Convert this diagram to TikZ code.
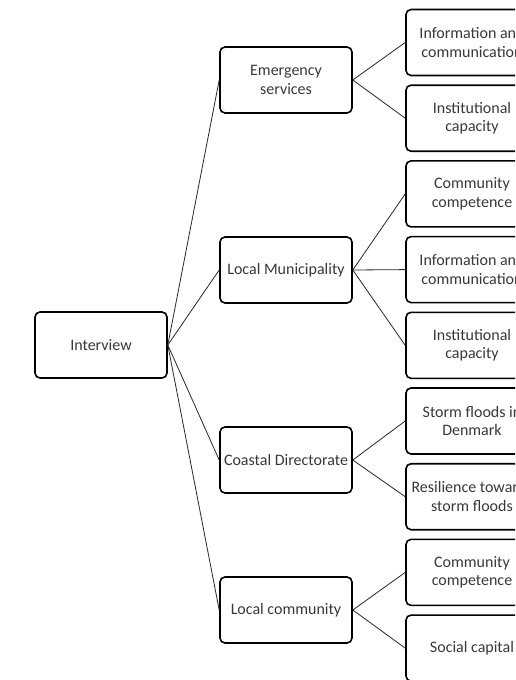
\documentclass[tikz,border=0pt]{standalone}
\usepackage{fontspec}
\setmainfont{Carlito}
\begin{document}
\begin{tikzpicture}[x=1pt,y=-1pt,
  box/.style={draw=black, line width=1.6pt, rounded corners=5pt, minimum width=132pt, minimum height=66pt, inner sep=1pt, align=center, text=black!78, font=\fontsize{16}{18.5}\selectfont},
  link/.style={draw=black!85, line width=0.8pt}]
\useasboundingbox (0,0) rectangle (515,680);
\clip (0,0) rectangle (515,680);
\node[box] (iv) at (101,345) {Interview};
\node[box] (es) at (286,80) {Emergency\\services};
\node[box] (lm) at (286,270) {Local Municipality};
\node[box] (cd) at (286,460) {Coastal Directorate};
\node[box] (lc) at (286,610) {Local community};
\node[box] (r1) at (472,42.5) {Information and\\communication};
\node[box] (r2) at (472,118.2) {Institutional\\capacity};
\node[box] (r3) at (472,193.9) {Community\\competence};
\node[box] (r4) at (472,269.6) {Information and\\communication};
\node[box] (r5) at (472,345.3) {Institutional\\capacity};
\node[box] (r6) at (472,421) {Storm floods in\\Denmark};
\node[box] (r7) at (472,496.7) {Resilience towards\\storm floods};
\node[box] (r8) at (472,572.4) {Community\\competence};
\node[box] (r9) at (472,648.1) {Social capital};
\foreach \m in {es,lm,cd,lc} \draw[link] (iv.east) -- (\m.west);
\foreach \r in {r1,r2} \draw[link] (es.east) -- (\r.west);
\foreach \r in {r3,r4,r5} \draw[link] (lm.east) -- (\r.west);
\foreach \r in {r6,r7} \draw[link] (cd.east) -- (\r.west);
\foreach \r in {r8,r9} \draw[link] (lc.east) -- (\r.west);
\end{tikzpicture}
\end{document}
